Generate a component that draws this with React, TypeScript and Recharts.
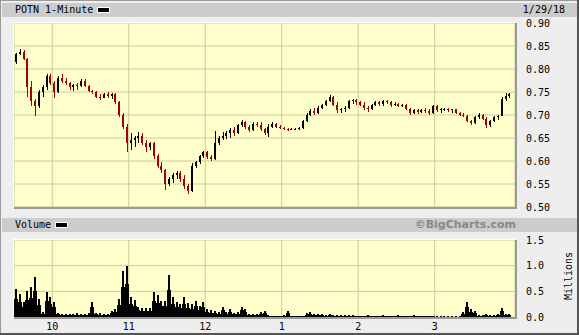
import { Bar, CartesianGrid, ComposedChart, XAxis, YAxis } from 'recharts';

// 3-minute candles from 9:30, [open, high, low, close]
const candles: [number, number, number, number][] = [
  [0.815, 0.835, 0.81, 0.832], [0.832, 0.843, 0.83, 0.838], [0.838, 0.842, 0.82, 0.822], [0.822, 0.825, 0.74, 0.76],
  [0.76, 0.775, 0.72, 0.73], [0.73, 0.735, 0.697, 0.72], [0.72, 0.755, 0.715, 0.75], [0.75, 0.765, 0.74, 0.76],
  [0.76, 0.79, 0.755, 0.785], [0.785, 0.79, 0.765, 0.77], [0.77, 0.775, 0.738, 0.75], [0.75, 0.785, 0.748, 0.78],
  [0.78, 0.79, 0.77, 0.775], [0.775, 0.78, 0.765, 0.77], [0.77, 0.772, 0.755, 0.76], [0.76, 0.768, 0.752, 0.765],
  [0.765, 0.77, 0.755, 0.762], [0.762, 0.778, 0.76, 0.775], [0.775, 0.778, 0.76, 0.762], [0.762, 0.765, 0.75, 0.752],
  [0.752, 0.755, 0.745, 0.75], [0.75, 0.752, 0.737, 0.74], [0.74, 0.745, 0.733, 0.738], [0.738, 0.748, 0.736, 0.745],
  [0.745, 0.75, 0.738, 0.742], [0.742, 0.748, 0.735, 0.745], [0.745, 0.748, 0.725, 0.728], [0.728, 0.73, 0.695, 0.7],
  [0.7, 0.705, 0.67, 0.675], [0.675, 0.68, 0.62, 0.64], [0.64, 0.66, 0.625, 0.645], [0.645, 0.655, 0.63, 0.65],
  [0.65, 0.662, 0.64, 0.655], [0.655, 0.66, 0.635, 0.64], [0.64, 0.645, 0.62, 0.63], [0.63, 0.642, 0.625, 0.64],
  [0.64, 0.642, 0.605, 0.61], [0.61, 0.615, 0.585, 0.59], [0.59, 0.598, 0.575, 0.58], [0.58, 0.582, 0.537, 0.55],
  [0.55, 0.565, 0.545, 0.56], [0.56, 0.575, 0.552, 0.57], [0.57, 0.578, 0.56, 0.575], [0.575, 0.578, 0.555, 0.56],
  [0.56, 0.57, 0.54, 0.545], [0.545, 0.55, 0.528, 0.535], [0.535, 0.595, 0.532, 0.59], [0.59, 0.6, 0.585, 0.597],
  [0.597, 0.612, 0.594, 0.61], [0.61, 0.622, 0.606, 0.62], [0.62, 0.622, 0.605, 0.608], [0.608, 0.612, 0.6, 0.605],
  [0.605, 0.665, 0.602, 0.64], [0.64, 0.655, 0.635, 0.65], [0.65, 0.662, 0.645, 0.655], [0.655, 0.665, 0.648, 0.66],
  [0.66, 0.672, 0.65, 0.668], [0.668, 0.675, 0.655, 0.66], [0.66, 0.68, 0.658, 0.678], [0.678, 0.69, 0.675, 0.685],
  [0.685, 0.688, 0.67, 0.675], [0.675, 0.678, 0.663, 0.668], [0.668, 0.685, 0.665, 0.68], [0.68, 0.685, 0.674, 0.678],
  [0.678, 0.685, 0.665, 0.67], [0.67, 0.672, 0.656, 0.66], [0.66, 0.68, 0.652, 0.675], [0.675, 0.685, 0.672, 0.68],
  [0.68, 0.682, 0.672, 0.675], [0.675, 0.678, 0.67, 0.672], [0.672, 0.675, 0.667, 0.67], [0.67, 0.672, 0.666, 0.668],
  [0.668, 0.672, 0.667, 0.67], [0.67, 0.672, 0.668, 0.67], [0.67, 0.675, 0.668, 0.672], [0.672, 0.69, 0.67, 0.688],
  [0.688, 0.705, 0.685, 0.7], [0.7, 0.712, 0.698, 0.708], [0.708, 0.715, 0.7, 0.705], [0.705, 0.72, 0.703, 0.715],
  [0.715, 0.725, 0.712, 0.722], [0.722, 0.732, 0.72, 0.73], [0.73, 0.743, 0.728, 0.74], [0.74, 0.742, 0.72, 0.722],
  [0.722, 0.728, 0.704, 0.71], [0.71, 0.715, 0.705, 0.712], [0.712, 0.72, 0.706, 0.715], [0.715, 0.733, 0.713, 0.73],
  [0.73, 0.735, 0.725, 0.732], [0.732, 0.735, 0.722, 0.728], [0.728, 0.73, 0.72, 0.722], [0.722, 0.728, 0.71, 0.715],
  [0.715, 0.72, 0.706, 0.712], [0.712, 0.725, 0.71, 0.722], [0.722, 0.73, 0.72, 0.728], [0.728, 0.73, 0.72, 0.725],
  [0.725, 0.732, 0.72, 0.73], [0.73, 0.733, 0.725, 0.728], [0.728, 0.73, 0.718, 0.722], [0.722, 0.728, 0.72, 0.725],
  [0.725, 0.727, 0.718, 0.72], [0.72, 0.725, 0.717, 0.722], [0.722, 0.724, 0.71, 0.712], [0.712, 0.715, 0.7, 0.705],
  [0.705, 0.712, 0.703, 0.71], [0.71, 0.713, 0.703, 0.706], [0.706, 0.712, 0.704, 0.71], [0.71, 0.715, 0.705, 0.708],
  [0.708, 0.712, 0.7, 0.705], [0.705, 0.722, 0.703, 0.72], [0.72, 0.722, 0.706, 0.71], [0.71, 0.715, 0.705, 0.712],
  [0.712, 0.716, 0.708, 0.714], [0.714, 0.716, 0.706, 0.71], [0.71, 0.714, 0.705, 0.712], [0.712, 0.714, 0.703, 0.705],
  [0.705, 0.707, 0.698, 0.7], [0.7, 0.704, 0.695, 0.698], [0.698, 0.7, 0.685, 0.688], [0.688, 0.69, 0.678, 0.682],
  [0.682, 0.698, 0.68, 0.695], [0.695, 0.705, 0.692, 0.7], [0.7, 0.702, 0.69, 0.692], [0.692, 0.695, 0.672, 0.678],
  [0.678, 0.69, 0.675, 0.688], [0.688, 0.698, 0.685, 0.695], [0.695, 0.7, 0.69, 0.698], [0.698, 0.74, 0.697, 0.735],
  [0.735, 0.748, 0.73, 0.742], [0.742, 0.748, 0.738, 0.745],
];

// volume per 3-minute slot, millions
const volumes = [
  0.55, 0.45, 0.3, 0.5, 0.58, 0.78, 0.35, 0.1, 0.48, 0.38,
  0.3, 0.08, 0.06, 0.05, 0.06, 0.05, 0.07, 0.05, 0.06, 0.07,
  0.3, 0.08, 0.07, 0.06, 0.05, 0.12, 0.16, 0.36, 0.9, 1.0,
  0.39, 0.34, 0.2, 0.17, 0.17, 0.17, 0.48, 0.42, 0.32, 0.32,
  0.81, 0.39, 0.3, 0.26, 0.39, 0.28, 0.25, 0.32, 0.22, 0.29,
  0.15, 0.13, 0.11, 0.1, 0.2, 0.09, 0.16, 0.08, 0.09, 0.2,
  0.16, 0.06, 0.05, 0.06, 0.1, 0.11, 0.03, 0.02, 0.02, 0.02,
  0.03, 0.12, 0.02, 0.02, 0.02, 0.02, 0.07, 0.1, 0.06, 0.05,
  0.05, 0.04, 0.05, 0.04, 0.03, 0.04, 0.03, 0.04, 0.03, 0.02,
  0.02, 0.02, 0.03, 0.02, 0.02, 0.02, 0.03, 0.02, 0.02, 0.02,
  0.03, 0.02, 0.02, 0.02, 0.04, 0.02, 0.02, 0.02, 0.02, 0.02,
  0.01, 0.01, 0.01, 0.01, 0.01, 0.01, 0.01, 0.1, 0.29, 0.15,
  0.12, 0.04, 0.04, 0.05, 0.04, 0.04, 0.05, 0.17, 0.06, 0.05,
];

const hourTicks = [30, 90, 150, 210, 270, 330]; // minutes after 9:30
const hourLabels = ['10', '11', '12', '1', '2', '3'];
const priceTicks = [0.5, 0.55, 0.6, 0.65, 0.7, 0.75, 0.8, 0.85, 0.9];
const volumeTicks = [0, 0.5, 1, 1.5];

const priceData = candles.map(([o, h, l, c], i) => ({ t: i * 3 + 1.5, range: [l, h], o, h, l, c }));
const volumeData = volumes.map((v, i) => ({ t: i * 3 + 1.5, v }));

const tickStyle = { fill: '#000', fontSize: 10, fontFamily: '"DejaVu Sans Mono", monospace' };
const grid = '#cccc99';

function Candle(props: any) {
  const { x, y, width, height, payload } = props;
  const { o, h, l, c } = payload;
  const top = Math.min(y, y + height);
  const hgt = Math.abs(height);
  const span = h - l || 1;
  const py = (v: number) => top + ((h - v) / span) * hgt;
  const cx = Math.round(x + width / 2);
  const color = c >= o ? '#000000' : '#a00000';
  const bTop = py(Math.max(o, c));
  const bBot = py(Math.min(o, c));
  return (
    <g shapeRendering="crispEdges">
      <rect x={cx} y={top} width={1} height={Math.max(hgt, 1)} fill={color} />
      <rect x={cx - 1} y={bTop} width={2} height={Math.max(bBot - bTop, 1)} fill={color} />
    </g>
  );
}

// volume spike: thin full-height stroke plus a slot-wide lower block
function VolBar(props: any) {
  const { x, y, width, height } = props;
  const top = Math.min(y, y + height);
  const hgt = Math.abs(height);
  const cx = x + width / 2;
  return (
    <g shapeRendering="crispEdges">
      <rect x={Math.round(cx) - 1} y={top} width={2} height={hgt} fill="#000" />
      <rect x={cx - 2} y={top + hgt * 0.35} width={4} height={hgt * 0.65} fill="#000" />
    </g>
  );
}

const abs = (s: any) => ({ position: 'absolute' as const, ...s });

export default function App() {
  return (
    <div style={abs({ left: 0, top: 0, width: 579, height: 335, background: '#eeeeee', fontFamily: '"DejaVu Sans Mono", monospace', fontSize: 10, overflow: 'hidden' })}>
      {/* frame */}
      <div style={abs({ left: 0, top: 0, width: 579, height: 1, background: '#999' })} />
      <div style={abs({ left: 0, top: 0, width: 1, height: 335, background: '#999' })} />
      <div style={abs({ left: 577, top: 0, width: 2, height: 335, background: '#555' })} />
      <div style={abs({ left: 0, top: 333, width: 579, height: 2, background: '#555' })} />

      {/* header band */}
      <div style={abs({ left: 2, top: 3, width: 575, height: 14, background: '#cccccc' })} />
      <div style={abs({ left: 15, top: 3, lineHeight: '14px' })}>POTN 1-Minute</div>
      <div style={abs({ left: 97, top: 7, width: 13, height: 6, background: '#000', border: '1px solid #fff', boxSizing: 'border-box' })} />
      <div style={abs({ right: 14, top: 3, lineHeight: '14px' })}>1/29/18</div>

      {/* volume band */}
      <div style={abs({ left: 2, top: 218, width: 575, height: 14, background: '#cccccc' })} />
      <div style={abs({ left: 15, top: 218, lineHeight: '14px' })}>Volume</div>
      <div style={abs({ left: 55, top: 222, width: 13, height: 6, background: '#000', border: '1px solid #fff', boxSizing: 'border-box' })} />
      <div style={abs({ right: 63, top: 218, lineHeight: '14px', fontFamily: '"DejaVu Sans", sans-serif', fontWeight: 'bold', fontSize: 11, color: '#888' })}>©BigCharts.com</div>

      {/* plot backgrounds */}
      <div style={abs({ left: 14, top: 23, width: 501, height: 184, background: '#ffffcc' })} />
      <div style={abs({ left: 14, top: 240, width: 501, height: 77, background: '#ffffcc' })} />

      <div style={abs({ left: 0, top: 0 })}>
        <ComposedChart width={579} height={215} data={priceData} margin={{ top: 23, right: 0, bottom: 8, left: 14 }} barCategoryGap={0}>
          <CartesianGrid stroke={grid} />
          <XAxis type="number" dataKey="t" domain={[0, 393]} ticks={hourTicks} hide />
          <YAxis orientation="right" width={64} domain={[0.5, 0.9]} ticks={priceTicks} axisLine={false} tickLine={false} tickMargin={5}
            tick={tickStyle} tickFormatter={(v: number) => v.toFixed(2)} interval={0} />
          <Bar dataKey="range" shape={<Candle />} isAnimationActive={false} />
        </ComposedChart>
      </div>

      <div style={abs({ left: 0, top: 232 })}>
        <ComposedChart width={579} height={103} data={volumeData} margin={{ top: 8, right: 0, bottom: 0, left: 14 }} barCategoryGap={0}>
          <CartesianGrid stroke={grid} />
          <XAxis type="number" dataKey="t" domain={[0, 393]} ticks={hourTicks} height={18} axisLine={false} tickLine={false} tickMargin={0}
            tick={tickStyle} tickFormatter={(v: number) => hourLabels[hourTicks.indexOf(v)]} interval={0} />
          <YAxis orientation="right" width={64} domain={[0, 1.5]} ticks={volumeTicks} axisLine={false} tickLine={false} tickMargin={5}
            tick={tickStyle} tickFormatter={(v: number) => v.toFixed(1)} interval={0} />
          <Bar dataKey="v" shape={<VolBar />} isAnimationActive={false} />
        </ComposedChart>
      </div>

      {/* plot bevels */}
      <div style={abs({ left: 13, top: 22, width: 502, height: 1, background: '#fff' })} />
      <div style={abs({ left: 13, top: 22, width: 1, height: 186, background: '#fff' })} />
      <div style={abs({ left: 14, top: 207, width: 503, height: 2, background: '#999' })} />
      <div style={abs({ left: 515, top: 23, width: 2, height: 186, background: '#999' })} />
      <div style={abs({ left: 13, top: 239, width: 502, height: 1, background: '#fff' })} />
      <div style={abs({ left: 13, top: 239, width: 1, height: 79, background: '#fff' })} />
      <div style={abs({ left: 14, top: 317, width: 503, height: 2, background: '#999' })} />
      <div style={abs({ left: 515, top: 240, width: 2, height: 79, background: '#999' })} />

      <div style={abs({ left: 568, top: 276, transform: 'translate(-50%, -50%) rotate(-90deg)', whiteSpace: 'nowrap' })}>Millions</div>
    </div>
  );
}
